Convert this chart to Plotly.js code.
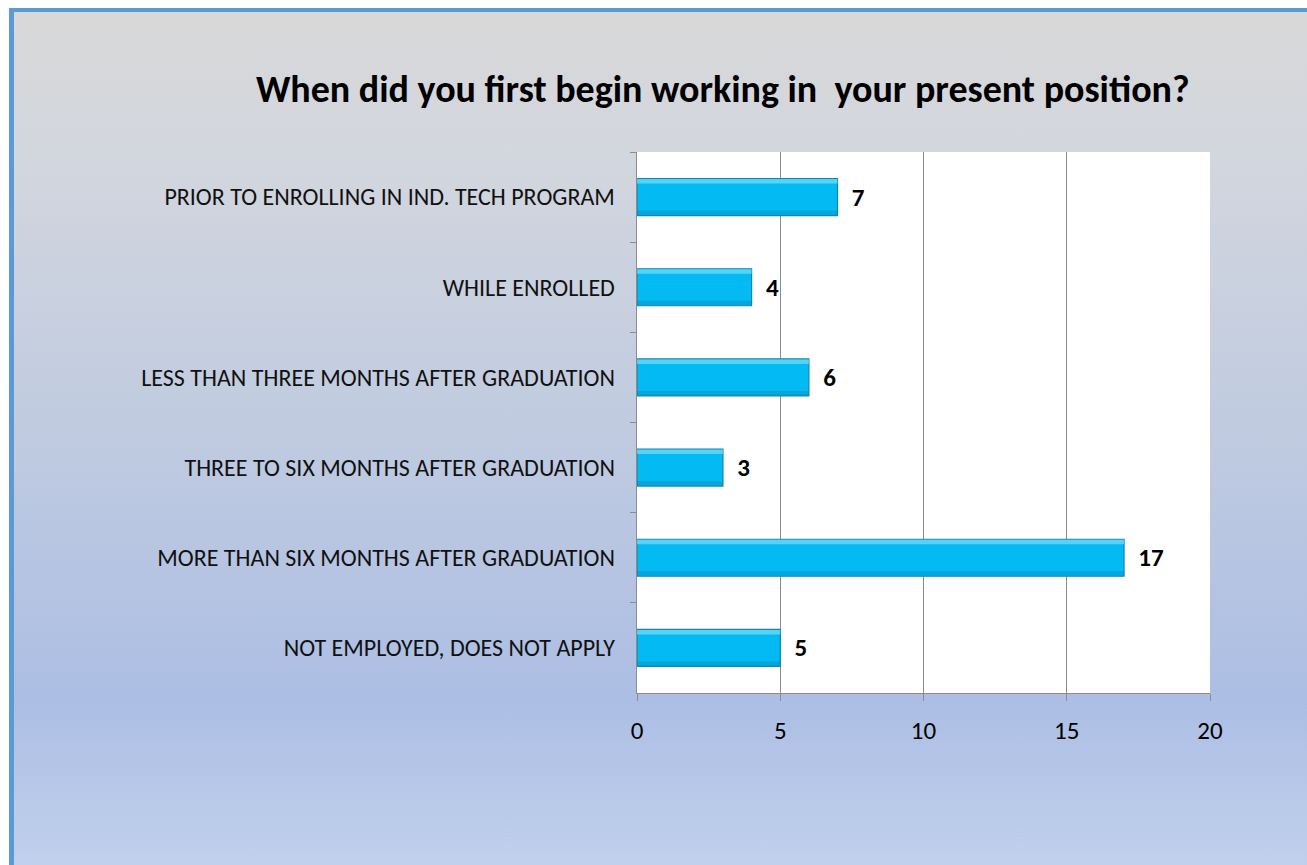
<!DOCTYPE html>
<html>
<head>
<meta charset="utf-8">
<script src="https://cdn.plot.ly/plotly-3.0.1.min.js"></script>
<style>
html,body{margin:0;padding:0;background:#ffffff;width:1307px;height:865px;overflow:hidden;}
#bg{position:absolute;left:9px;top:8px;width:1293px;height:900px;border-left:5px solid #5b9bd5;border-top:4px solid #5b9bd5;border-right:5px solid #5b9bd5;
background:linear-gradient(to bottom,#d8d8d8 0px,#d2d6de 150px,#c0cbe0 420px,#acbee4 690px,#c1d1ed 860px);}
#chart{position:absolute;left:0;top:0;width:1307px;height:865px;}
</style>
</head>
<body>
<div id="bg"></div>
<div id="chart"></div>
<script>
const categories = [
  "PRIOR TO ENROLLING IN IND. TECH PROGRAM",
  "WHILE ENROLLED",
  "LESS THAN THREE MONTHS AFTER GRADUATION",
  "THREE TO SIX MONTHS AFTER GRADUATION",
  "MORE THAN SIX MONTHS AFTER GRADUATION",
  "NOT EMPLOYED, DOES NOT APPLY"
];
const counts = [7, 4, 6, 3, 17, 5];
const xTicks = [0, 5, 10, 15, 20];
const chartTitle = "When did you first begin working in  your present position?";

const font = "Carlito, Calibri, 'Open Sans', sans-serif";

const traces = [
  {
    type: "bar", orientation: "h",
    y: categories, x: counts,
    width: 0.41,
    marker: {color: "#03baf2", line: {color: "#1486ad", width: 1.2}},
    text: counts.map(v => "\u00A0\u00A0" + v),
    textposition: "outside",
    cliponaxis: false,
    textfont: {family: font, size: 25, color: "#000000", weight: "bold"},
    hoverinfo: "skip"
  },
  {
    type: "bar", orientation: "h",
    y: categories, x: counts,
    width: 0.05,
    offset: -0.2,
    marker: {color: "rgba(140,228,252,0.6)", line: {width: 0}},
    hoverinfo: "skip"
  },
  {
    type: "bar", orientation: "h",
    y: categories, x: counts,
    width: 0.05,
    offset: 0.15,
    marker: {color: "rgba(10,120,165,0.3)", line: {width: 0}},
    hoverinfo: "skip"
  }
];

const layout = {
  width: 1307, height: 865,
  paper_bgcolor: "rgba(0,0,0,0)",
  plot_bgcolor: "#ffffff",
  showlegend: false,
  barmode: "overlay",
  margin: {l: 637, r: 97, t: 152, b: 172, pad: 0},
  title: {
    text: "<b>" + chartTitle + "</b>",
    font: {family: font, size: 38, color: "#000000"},
    x: 0.553, xanchor: "center", y: 0.898, yanchor: "middle"
  },
  xaxis: {
    range: [0, 20],
    tickvals: xTicks,
    ticktext: xTicks.map(String),
    showgrid: true, gridcolor: "#8c8c8c", gridwidth: 1.3,
    zeroline: false,
    showline: true, linecolor: "#8c8c8c", linewidth: 1.3,
    ticks: "outside", ticklen: 7, tickcolor: "#8c8c8c",
    ticklabelstandoff: 8,
    tickfont: {family: font, size: 25, color: "#000000"},
    fixedrange: true
  },
  yaxis: {
    type: "category",
    autorange: "reversed",
    tickson: "boundaries",
    showgrid: false, zeroline: false,
    showline: true, linecolor: "#8c8c8c", linewidth: 1.3,
    ticks: "outside", ticklen: 6, tickcolor: "#8c8c8c",
    ticklabelstandoff: 16,
    tickfont: {family: font, size: 24, color: "#111111"},
    fixedrange: true
  }
};

Plotly.newPlot("chart", traces, layout, {displayModeBar: false, staticPlot: true});
</script>
</body>
</html>
